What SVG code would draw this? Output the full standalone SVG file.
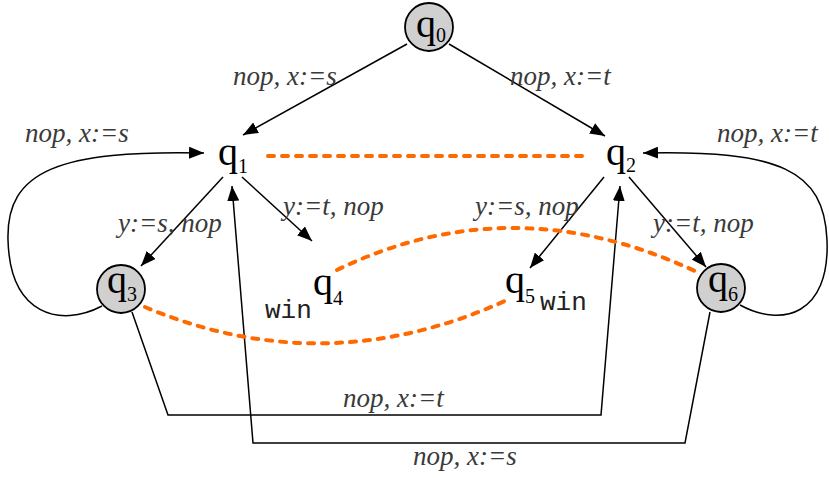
<svg xmlns="http://www.w3.org/2000/svg" width="829" height="478" viewBox="0 0 829 478">
<style>
.edge{fill:none;stroke:#000;stroke-width:1.5;marker-end:url(#ah)}
.dash{fill:none;stroke:#ff6a00;stroke-width:4;stroke-dasharray:6 8;stroke-linecap:round}
.st{fill:#d0d0d0;stroke:#000;stroke-width:1.8}
</style>
<defs>
<marker id="ah" markerUnits="userSpaceOnUse" markerWidth="16" markerHeight="12" refX="15" refY="6" orient="auto">
<path d="M0,0 L15,6 L0,12 Z" fill="#000"/>
</marker>
</defs>
<g id="connectors">
<line class="edge" x1="407" y1="44" x2="243" y2="135"/>
<line class="edge" x1="449" y1="44" x2="605" y2="136"/>
<path class="edge" d="M102,306 C60,328 10,315 8,240 C6,170 60,150 204,153"/>
<path class="edge" d="M740,305 C782,328 830,315 827,240 C824,170 780,150 643,153"/>
<line class="edge" x1="223" y1="177" x2="141" y2="266"/>
<line class="edge" x1="242" y1="177" x2="312" y2="241"/>
<line class="edge" x1="604" y1="177" x2="530" y2="268"/>
<line class="edge" x1="629" y1="177" x2="706" y2="267"/>
<polyline class="edge" points="132,312 168,415 601,415 620,186"/>
<polyline class="edge" points="710,312 685,443 253,443 232,186"/>
<line class="dash" x1="268" y1="156" x2="590" y2="156"/>
<path class="dash" d="M337,270 Q512,185 697,272"/>
<path class="dash" d="M145,307 Q325,383 507,300"/>
<text x="233" y="85" font-family="'Liberation Serif', serif" font-style="italic" font-size="27" fill="#3a3a3a">nop, x:=s</text>
<text x="510" y="85" font-family="'Liberation Serif', serif" font-style="italic" font-size="27" fill="#3a3a3a">nop, x:=t</text>
<text x="25" y="142" font-family="'Liberation Serif', serif" font-style="italic" font-size="27" fill="#3a3a3a">nop, x:=s</text>
<text x="717" y="142" font-family="'Liberation Serif', serif" font-style="italic" font-size="27" fill="#3a3a3a">nop, x:=t</text>
<text x="118" y="232" font-family="'Liberation Serif', serif" font-style="italic" font-size="27" fill="#3a3a3a">y:=s, nop</text>
<text x="653" y="232" font-family="'Liberation Serif', serif" font-style="italic" font-size="27" fill="#3a3a3a">y:=t, nop</text>
<text x="283" y="215" font-family="'Liberation Serif', serif" font-style="italic" font-size="27" fill="#3a3a3a">y:=t, nop</text>
<text x="475" y="215" font-family="'Liberation Serif', serif" font-style="italic" font-size="27" fill="#3a3a3a">y:=s, nop</text>
<text x="343" y="407" font-family="'Liberation Serif', serif" font-style="italic" font-size="27" fill="#3a3a3a">nop, x:=t</text>
<text x="413" y="465" font-family="'Liberation Serif', serif" font-style="italic" font-size="27" fill="#3a3a3a">nop, x:=s</text>
</g>
<g id="q0">
<circle class="st" cx="429" cy="27" r="24"/>
<text x="416" y="37" font-family="'Liberation Serif', serif" font-size="40">q<tspan font-size="20" dy="5">0</tspan></text>
</g>
<g id="q1">
<text x="218" y="165" font-family="'Liberation Serif', serif" font-size="40">q<tspan font-size="20" dy="8">1</tspan></text>
</g>
<g id="q2">
<text x="606" y="165" font-family="'Liberation Serif', serif" font-size="40">q<tspan font-size="20" dy="7">2</tspan></text>
</g>
<g id="q3">
<circle class="st" cx="121" cy="289" r="24"/>
<text x="107" y="293" font-family="'Liberation Serif', serif" font-size="40">q<tspan font-size="20" dy="8">3</tspan></text>
</g>
<g id="q4">
<text x="313" y="295" font-family="'Liberation Serif', serif" font-size="40">q<tspan font-size="20" dy="10">4</tspan></text>
<text x="265" y="318" font-family="'Liberation Mono', monospace" font-size="26" fill="#222">win</text>
</g>
<g id="q5">
<text x="505" y="293" font-family="'Liberation Serif', serif" font-size="40">q<tspan font-size="20" dy="10">5</tspan></text>
<text x="540" y="310" font-family="'Liberation Mono', monospace" font-size="26" fill="#222">win</text>
</g>
<g id="q6">
<circle class="st" cx="721" cy="288" r="24"/>
<text x="708" y="292" font-family="'Liberation Serif', serif" font-size="40">q<tspan font-size="20" dy="9">6</tspan></text>
</g>
</svg>
